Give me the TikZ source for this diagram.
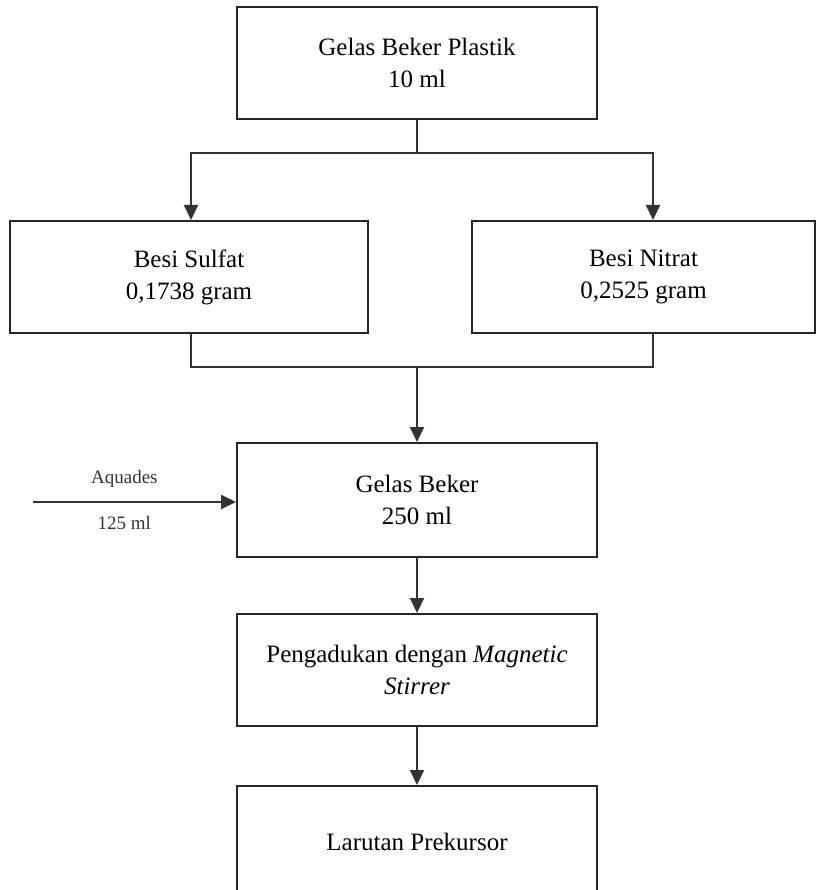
\documentclass[tikz,border=0pt]{standalone}
\usepackage{fontspec}
\setmainfont{Liberation Serif}
\usetikzlibrary{arrows.meta,positioning}

\begin{document}
\begin{tikzpicture}[
    x=1pt, y=1pt,
    >={Triangle[length=15pt,width=14pt]},
    node distance=55pt,
    every node/.style={font=\fontsize{25}{32}\selectfont},
    box/.style={
        rectangle, draw=black!85, line width=2pt,
        minimum width=360pt, minimum height=112pt,
        align=center, inner sep=0pt
    },
    side/.style={
        rectangle, draw=black!85, line width=2pt,
        minimum height=112pt,
        align=center, inner sep=0pt
    },
    lbl/.style={font=\fontsize{19}{22}\selectfont, inner sep=0pt},
    arr/.style={->, line width=2pt, black!80},
    ln/.style={line width=2pt, black!80}
]
    \useasboundingbox (0,0) rectangle (822,-890);

    % Top box and the two salts
    \node[box] (plastik) at (417,-63) {Gelas Beker Plastik\\10 ml};
    \node[side, minimum width=358pt] (sulfat) at (189,-277) {Besi Sulfat\\0,1738 gram};
    \node[side, minimum width=343pt] (nitrat) at (643.5,-277) {Besi Nitrat\\0,2525 gram};

    % Main vertical chain
    \node[box, minimum height=114pt] (beker) at (417,-500) {Gelas Beker\\250 ml};
    \node[box] (aduk) [below=of beker] {Pengadukan dengan \textit{Magnetic}\\\textit{Stirrer}};
    \node[box] (larutan) [below=58pt of aduk] {Larutan Prekursor};

    % Split and merge points
    \coordinate (topbus) at (417,-153);
    \coordinate (botbus) at (417,-367);
    \coordinate (aqin) at (33,-502);

    % Edges
    \draw[ln] (plastik.south) -- (topbus);
    \draw[arr] (topbus) -| ([xshift=2pt]sulfat.north);
    \draw[arr] (topbus) -| ([xshift=9.5pt]nitrat.north);
    \draw[ln] ([xshift=2pt]sulfat.south) |- (botbus);
    \draw[ln] ([xshift=9.5pt]nitrat.south) |- (botbus);
    \draw[arr] (botbus) -- (beker.north);
    \draw[arr] (aqin) -- (aqin -| beker.west)
        node[lbl, pos=0.45, above=13pt] {Aquades}
        node[lbl, pos=0.45, below=13pt] {125 ml};
    \draw[arr] (beker) -- (aduk);
    \draw[arr] (aduk) -- (larutan);

\end{tikzpicture}
\end{document}
